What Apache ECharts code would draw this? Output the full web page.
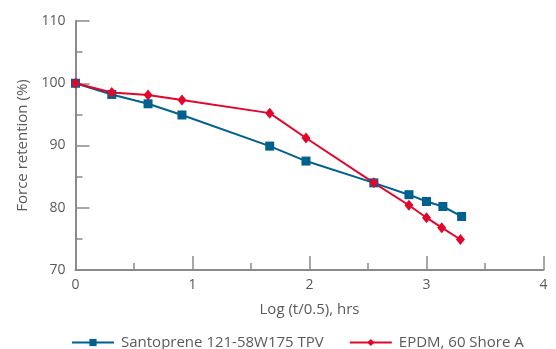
<!DOCTYPE html>
<html><head><meta charset="utf-8">
<script src="https://cdn.jsdelivr.net/npm/echarts@6/dist/echarts.min.js"></script>
<style>html,body{margin:0;padding:0;background:#fff}#c{width:556px;height:349px}</style>
</head><body><div id="c"></div>
<script>
const santopreneX = [0, 0.31, 0.62, 0.91, 1.66, 1.97, 2.55, 2.85, 3.0, 3.14, 3.3];
const santopreneY = [100, 98.2, 96.7, 94.9, 89.9, 87.5, 84.0, 82.1, 81.0, 80.2, 78.6];
const epdmX = [0, 0.31, 0.62, 0.91, 1.66, 1.97, 2.55, 2.85, 3.0, 3.13, 3.29];
const epdmY = [100, 98.5, 98.1, 97.3, 95.2, 91.2, 84.0, 80.4, 78.4, 76.8, 74.9];
const seriesNames = ['Santoprene 121-58W175 TPV', 'EPDM, 60 Shore A'];
const xTitle = 'Log (t/0.5), hrs';
const yTitle = 'Force retention (%)';

const font = 'Open Sans';
const axisCol = '#8a8a8a';
const txtCol = '#5a5a5a';
const chart = echarts.init(document.getElementById('c'));
chart.setOption({
  animation: false,
  grid: {left: 75.5, right: 12.5, top: 21, bottom: 79},
  legend: {
    top: 330, left: 66, itemWidth: 42, itemHeight: 9, itemGap: 25,
    textStyle: {fontFamily: font, fontSize: 15, color: txtCol, padding: [0, 0, 0, 2]},
    data: seriesNames
  },
  xAxis: {
    type: 'value', min: 0, max: 4, interval: 1,
    name: xTitle, nameLocation: 'middle', nameGap: 32,
    nameTextStyle: {fontFamily: font, fontSize: 15, color: txtCol},
    axisLine: {lineStyle: {color: axisCol, width: 2}},
    axisTick: {inside: true, length: 14, lineStyle: {color: axisCol, width: 1.5}},
    minorTick: {show: true, splitNumber: 2, length: 7, lineStyle: {color: axisCol, width: 1.5}},
    axisLabel: {fontFamily: font, fontSize: 14, color: txtCol, margin: 8},
    splitLine: {show: false}
  },
  yAxis: {
    type: 'value', min: 70, max: 110, interval: 10,
    name: yTitle, nameLocation: 'middle', nameGap: 44,
    nameTextStyle: {fontFamily: font, fontSize: 15, color: txtCol},
    axisLine: {show: true, lineStyle: {color: axisCol, width: 2}},
    axisTick: {show: true, inside: true, length: 14, lineStyle: {color: axisCol, width: 1.5}},
    minorTick: {show: true, splitNumber: 2, length: 7, lineStyle: {color: axisCol, width: 1.5}},
    axisLabel: {fontFamily: font, fontSize: 14, color: txtCol, margin: 10},
    splitLine: {show: false}
  },
  series: [
    {name: seriesNames[0], type: 'line', data: santopreneX.map((x, i) => [x, santopreneY[i]]),
     symbol: 'rect', symbolSize: 9, itemStyle: {color: '#01618e'}, lineStyle: {width: 2, color: '#01618e'}},
    {name: seriesNames[1], type: 'line', data: epdmX.map((x, i) => [x, epdmY[i]]),
     symbol: 'diamond', symbolSize: [9, 11], itemStyle: {color: '#e2062c'}, lineStyle: {width: 2, color: '#e2062c'}}
  ]
});
</script></body></html>
